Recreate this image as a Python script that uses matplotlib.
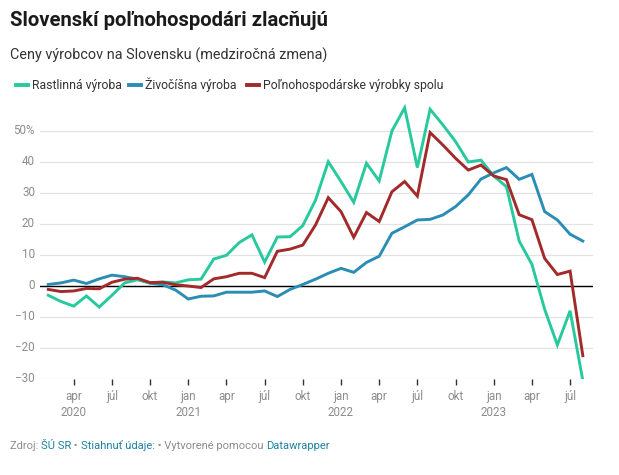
import numpy as np
import matplotlib.pyplot as plt
from matplotlib.lines import Line2D

plt.rcParams['font.family'] = ['Roboto', 'DejaVu Sans']

# monthly values, feb 2020 .. aug 2023
rastlinna = [-3, -5, -6.5, -3.2, -6.8, -3, 1, 2, 1, 1.3, 1, 2, 2.2, 8.7, 9.9, 14, 16.5, 7.7,
             15.8, 15.9, 19.5, 27.7, 40.1, 33.7, 27, 39.6, 33.9, 50, 57.5, 38.2, 57, 52,
             46.6, 40, 40.6, 35.5, 32, 14.5, 7, -7.5, -19, -8, -30.5]
zivocisna = [0.5, 1, 1.9, 0.8, 2.3, 3.5, 3, 2.2, 0.9, 0.4, -1.3, -4.2, -3.3, -3.2, -2, -2, -2,
             -1.6, -3.4, -1.1, 0.5, 2.2, 4.1, 5.7, 4.4, 7.6, 9.6, 17, 19.1, 21.3, 21.5, 22.9,
             25.6, 29.4, 34.5, 36.5, 38.2, 34.4, 36, 24, 21.3, 16.7, 14.5]
spolu = [-1.1, -1.8, -1.6, -0.8, -0.9, 1.2, 2.2, 2.5, 1.1, 1.2, 0.4, 0, -0.5, 2.3, 3, 4.1,
         4.1, 2.7, 11.2, 11.9, 13.2, 19.7, 28.5, 24, 15.7, 23.7, 20.8, 30.4, 33.7, 29, 49.5,
         45.5, 41.2, 37.4, 39, 35.5, 34.3, 23, 21.4, 8.9, 3.7, 4.8, -22.5]

series_names = ["Rastlinná výroba", "Živočíšna výroba", "Poľnohospodárske výrobky spolu"]
colors = ['#27c99d', '#2a8db4', '#a32a2a']

tick_pos = list(range(2, 42, 3))
tick_labels = ["apr\n2020", "júl", "okt", "jan\n2021", "apr", "júl", "okt", "jan\n2022",
               "apr", "júl", "okt", "jan\n2023", "apr", "júl"]
yticks = [-30, -20, -10, 0, 10, 20, 30, 40, 50]
ylabels = ["−30", "−20", "−10", "0", "10", "20", "30", "40", "50%"]

W, H = 619, 475
fig = plt.figure(figsize=(W / 100, H / 100), dpi=100)
ax = fig.add_axes([40 / W, 1 - 379 / H, (593 - 40) / W, 279 / H])

x = np.arange(len(rastlinna))
for data, c in zip([zivocisna, rastlinna, spolu], [colors[1], colors[0], colors[2]]):
    ax.plot(x, data, color=c, lw=2.1, solid_joinstyle='miter', zorder=3)

ax.set_xlim(-0.65, 42.8)
ax.set_ylim(-30, 60)
for s in ax.spines.values():
    s.set_visible(False)
ax.set_yticks(yticks)
ax.set_yticklabels([])
ax.tick_params(axis='y', length=0)
ax.grid(axis='y', color='#e3e3e3', lw=0.9, zorder=0)
ax.axhline(0, color='black', lw=1.0, zorder=2)
for yv, lab in zip(yticks, ylabels):
    ax.text(-5 / (593 - 40), yv, lab, transform=ax.get_yaxis_transform(), ha='right',
            va='center', fontsize=8.4, color='#8c8c8c')

ax.set_xticks(tick_pos)
ax.set_xticklabels(tick_labels, fontsize=8.4, color='#8c8c8c', linespacing=1.25)
ax.tick_params(axis='x', length=4, width=1, color='#333333', pad=4)

# title, subtitle
fig.text(10 / W, 1 - 21 / H, "Slovenskí poľnohospodári zlacňujú", fontsize=14.6,
         fontweight='bold', color='#1a1a1a', va='center')
fig.text(10 / W, 1 - 55 / H, "Ceny výrobcov na Slovensku (medziročná zmena)", fontsize=10.4,
         color='#333333', va='center')

# legend
leg_x = [16, 129, 247]
for lx, name, c in zip(leg_x, series_names, colors):
    fig.add_artist(Line2D([lx / W, (lx + 12) / W], [1 - 85 / H, 1 - 85 / H], color=c, lw=2.8,
                          transform=fig.transFigure))
    fig.text((lx + 16) / W, 1 - 85 / H, name, fontsize=8.8, color='#333333', va='center')

# footer, pieces placed one after another
parts = [("Zdroj: ", '#8c8c8c'), ("ŠÚ SR", '#1d81a2'), (" • ", '#8c8c8c'),
         ("Stiahnuť údaje:", '#1d81a2'), (" • Vytvorené pomocou ", '#8c8c8c'),
         ("Datawrapper", '#1d81a2')]
footer = [fig.text(0, 0, txt, fontsize=8.0, color=c, va='baseline') for txt, c in parts]
fig.canvas.draw()
r = fig.canvas.get_renderer()
xpos = 10
for t in footer:
    t.set_position((xpos / W, 1 - 449 / H))
    xpos += t.get_window_extent(r).width

fig.savefig("out.png", dpi=100)
